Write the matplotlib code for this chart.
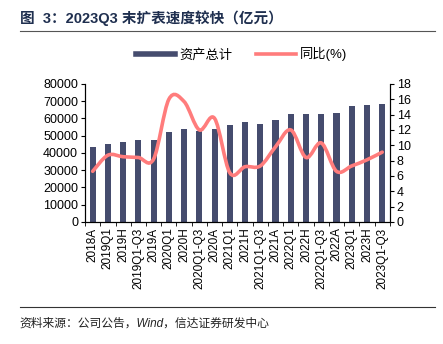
import matplotlib.pyplot as plt
import numpy as np
from matplotlib.path import Path
from matplotlib.patches import PathPatch
from matplotlib.lines import Line2D

plt.rcParams['font.family'] = ['Liberation Sans', 'Noto Sans CJK SC', 'DejaVu Sans']

cats = ['2018A', '2019Q1', '2019H', '2019Q1-Q3', '2019A', '2020Q1', '2020H', '2020Q1-Q3',
        '2020A', '2021Q1', '2021H', '2021Q1-Q3', '2021A', '2022Q1', '2022H', '2022Q1-Q3',
        '2022A', '2023Q1', '2023H', '2023Q1-Q3']
assets = [43500, 45300, 46500, 47300, 47300, 52300, 53900, 52700, 53700, 56000,
          57700, 56900, 59100, 62600, 62800, 62800, 63000, 67000, 67800, 68400]
yoy = [6.6, 8.7, 8.5, 8.4, 8.2, 16.0, 15.7, 12.0, 13.5, 6.4,
       7.2, 7.3, 9.8, 12.0, 8.4, 10.3, 6.6, 7.3, 8.1, 9.1]

navy = '#454C6E'
salmon = '#FF7C7C'

fig = plt.figure(figsize=(4.43, 3.44), dpi=100)
ax = fig.add_axes([0.192, 0.355, 0.688, 0.401])
x = np.arange(len(cats))
ax.bar(x, assets, width=0.4, color=navy, zorder=2)
ax.set_xlim(-0.5, len(cats) - 0.5)
ax.set_ylim(0, 80000)
ax.set_yticks(range(0, 80001, 10000))
ax.set_xticks(x)
ax.set_xticklabels(cats, rotation=90, fontsize=8.5)
ax.set_xticks(np.arange(-0.5, len(cats)), minor=True)
ax.tick_params(axis='x', which='major', length=0, pad=4)
ax.tick_params(axis='x', which='minor', length=3)
ax.tick_params(axis='y', labelsize=9, length=3, pad=2)
ax.spines['top'].set_visible(False)

ax2 = ax.twinx()
ax2.set_ylim(0, 18)
ax2.set_yticks(range(0, 19, 2))
ax2.tick_params(axis='y', labelsize=9, length=3, pad=2)
ax2.spines['top'].set_visible(False)

# smooth curve through the points (Catmull-Rom drawn as Bezier segments)
pts = np.column_stack([x, yoy]).astype(float)
verts = [pts[0]]
codes = [Path.MOVETO]
for i in range(len(pts) - 1):
    p0 = pts[i - 1] if i > 0 else pts[i]
    p1, p2 = pts[i], pts[i + 1]
    p3 = pts[i + 2] if i + 2 < len(pts) else pts[i + 1]
    c1 = p1 + (p2 - p0) / 6
    c2 = p2 - (p3 - p1) / 6
    verts += [c1, c2, p2]
    codes += [Path.CURVE4] * 3
ax2.add_patch(PathPatch(Path(verts, codes), fill=False, edgecolor=salmon, lw=2.6,
                        capstyle='round', zorder=3))

handles = [Line2D([], [], color=navy, lw=4), Line2D([], [], color=salmon, lw=2.6)]
fig.legend(handles, ['资产总计', '同比(%)'], loc='center', bbox_to_anchor=(0.545, 0.842),
           ncol=2, frameon=False, fontsize=9.5, handlelength=3.0, columnspacing=1.8,
           handletextpad=0.3)

fig.text(0.045, 0.948, '图  3：2023Q3 末扩表速度较快（亿元）', fontsize=10.5, fontweight='bold',
         color='#1F2F4F', va='center')
fig.add_artist(Line2D([0.045, 0.982], [0.909, 0.909], color='#555555', lw=0.8))
fig.add_artist(Line2D([0.045, 0.982], [0.107, 0.107], color='#333333', lw=0.8))
fig.text(0.045, 0.06, '资料来源：公司公告，Wind，信达证券研发中心', fontsize=8.5,
         style='italic', va='center', color='#222222')

fig.savefig('out.png', dpi=100)
